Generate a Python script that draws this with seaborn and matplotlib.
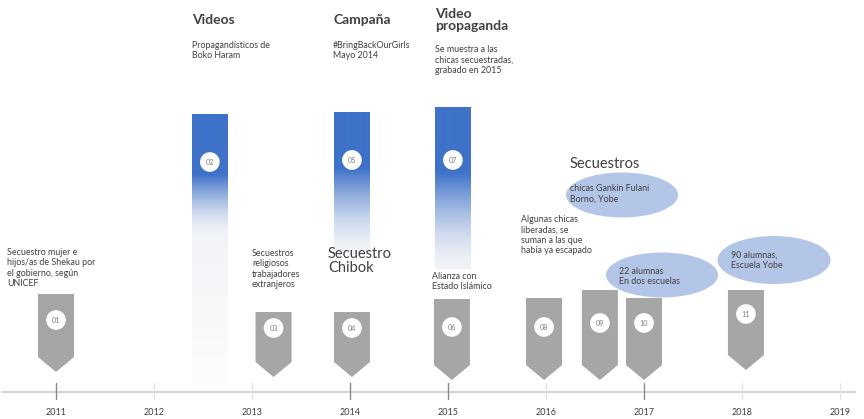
import numpy as np
import matplotlib
matplotlib.use("Agg")
import matplotlib.pyplot as plt
from matplotlib.patches import Polygon, Ellipse
import seaborn as sns

# timeline data
years = [2011, 2012, 2013, 2014, 2015, 2016, 2017, 2018, 2019]
marked_years = [2011, 2014, 2015, 2017]
event_ids = ["01", "02", "03", "04", "05", "06", "07", "08", "09", "10", "11"]
event_dates = [2011.0, 2012.57, 2013.22, 2014.02, 2014.02, 2015.04, 2015.05,
               2015.98, 2016.55, 2017.0, 2018.04]
event_kind = ["gray", "blue", "gray", "gray", "blue", "gray", "blue",
              "gray", "gray", "gray", "gray"]

headings = ["Videos", "Campaña", "Video\npropaganda"]
heading_notes = ["Propagandísticos de\nBoko Haram",
                 "#BringBackOurGirls\nMayo 2014",
                 "Se muestra a las\nchicas secuestradas,\ngrabado en 2015"]
notes = ["Secuestro mujer e\nhijos/as de Shekau por\nel gobierno, según\nUNICEF",
         "Secuestros\nreligiosos\ntrabajadores\nextranjeros",
         "Alianza con\nEstado Islámico",
         "Algunas chicas\nliberadas, se\nsuman a las que\nhabía ya escapado"]
big_notes = ["Secuestro\nChibok", "Secuestros"]
bubble_notes = ["chicas Gankin Fulani\nBorno, Yobe",
                "22 alumnas\nEn dos escuelas",
                "90 alumnas,\nEscuela Yobe"]

# layout (pixel-like vertical units, years horizontally)
px = 98.0  # pixels per year
gray_top = [294, None, 312, 312, None, 299, None, 298, 290, 298, 290]
gray_tip = [372, None, 377, 377, None, 380, None, 380, 380, 380, 370]
circle_y = [320, 162, 328, 328, 160, 327, 160, 327, 323, 323, 314]
# top, end of solid blue, end of fade, bottom
blue_span = {1: (115, 175, 235, 385), 4: (112, 168, 252, 254), 6: (107, 172, 268, 270)}

sns.set_theme(style="white")
plt.rcParams["font.family"] = ["Lato", "DejaVu Sans"]

fig = plt.figure(figsize=(8.64, 4.19), dpi=100)
ax = fig.add_axes([0, 0, 1, 1])
x0 = 2011 - 56 / px
x1 = 2011 + (864 - 56) / px

dark = "#404040"
gray = "#a6a6a6"
half_w = 18 / px

# axis line and ticks
ax.plot([2010.45, 2019.15], [392, 392], color="#d4d4d4", lw=1.6, zorder=1)
for y in years:
    c = "#8a8a8a" if y in marked_years else "#e4e4e4"
    ax.plot([y, y], [383, 399], color=c, lw=1.0, zorder=1)
    ax.text(y, 412, str(y), ha="center", va="center", fontsize=6.5, color=dark)

# gradient bars
blue = np.array(matplotlib.colors.to_rgb("#3f72c9"))
pale = np.array(matplotlib.colors.to_rgb("#f1f3f7"))
white = np.array(matplotlib.colors.to_rgb("#fdfdfd"))
for i, (top, solid, fade, bot) in blue_span.items():
    rows = []
    for yy in np.arange(top, bot):
        if yy < solid:
            rows.append(blue)
        elif yy < fade:
            t = (yy - solid) / (fade - solid)
            t = 1 - (1 - t) ** 1.6
            rows.append((1 - t) * blue + t * pale)
        else:
            t = (yy - fade) / max(bot - fade, 1)
            rows.append((1 - t) * pale + t * white)
    img = np.array(rows)[:, None, :]
    d = event_dates[i]
    ax.imshow(img, extent=(d - half_w, d + half_w, bot, top), origin="upper",
              interpolation="bilinear", zorder=2)

# gray arrow markers
for i, kind in enumerate(event_kind):
    if kind != "gray":
        continue
    d = event_dates[i]
    top, tip = gray_top[i], gray_tip[i]
    pts = [(d - half_w, top), (d + half_w, top), (d + half_w, tip - 15),
           (d, tip), (d - half_w, tip - 15)]
    ax.add_patch(Polygon(pts, closed=True, facecolor=gray, edgecolor="none", zorder=2))

# number circles
sns.scatterplot(x=event_dates, y=circle_y, s=200, color="white",
                edgecolor="none", ax=ax, zorder=3, legend=False)
for d, yc, lab in zip(event_dates, circle_y, event_ids):
    ax.text(d, yc, lab, ha="center", va="center", fontsize=5.2, color="#7f7f7f", zorder=4)

# headings over blue bars
head_x = [192, 333, 435]
head_y = [14, 14, 8]
sub_y = [41, 41, 45]
for hx, hy, sy, h, n in zip(head_x, head_y, sub_y, headings, heading_notes):
    xx = 2011 + (hx - 56) / px
    ax.text(xx, hy, h, ha="left", va="top", fontsize=10, fontweight="bold",
            color=dark, linespacing=1.05)
    ax.text(xx, sy, n, ha="left", va="top", fontsize=6.4, color=dark, linespacing=1.2)

# small notes
note_pos = [(7, 248), (252, 249), (432, 272), (521, 215)]
for (nx, ny), n in zip(note_pos, notes):
    ax.text(2011 + (nx - 56) / px, ny, n, ha="left", va="top", fontsize=6.4,
            color=dark, linespacing=1.2)

# bigger notes
big_pos = [(328, 247), (570, 157)]
for (nx, ny), n in zip(big_pos, big_notes):
    ax.text(2011 + (nx - 56) / px, ny, n, ha="left", va="top", fontsize=10.5,
            color=dark, linespacing=1.0)

# bubbles
bubble_c = [(622, 195, 112, 45), (662, 275, 112, 45), (774, 260, 113, 48)]
bubble_text = [(570, 184), (619, 267), (731, 251)]
for (cx, cy, w, h), (tx, ty), n in zip(bubble_c, bubble_text, bubble_notes):
    ax.add_patch(Ellipse((2011 + (cx - 56) / px, cy), w / px, h,
                         facecolor="#b4c6e7", edgecolor="none", zorder=2))
    ax.text(2011 + (tx - 56) / px, ty, n, ha="left", va="top", fontsize=6.4,
            color=dark, linespacing=1.2, zorder=3)

ax.set_xlim(x0, x1)
ax.set_ylim(419, 0)
ax.set_aspect("auto")
ax.axis("off")

fig.savefig("out.png", dpi=100)
